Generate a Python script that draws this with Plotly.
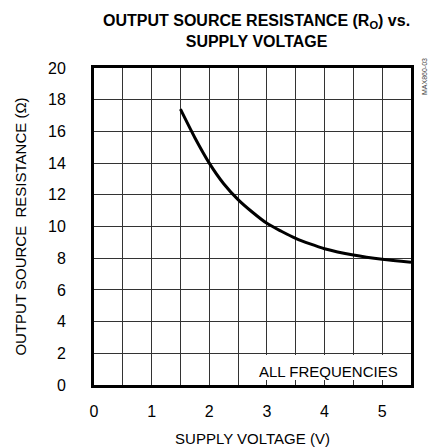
import plotly.graph_objects as go

# Data
voltage = [1.5, 1.75, 2.0, 2.25, 2.5, 2.75, 3.0, 3.25, 3.5, 3.75, 4.0, 4.5, 5.0, 5.5]
resistance = [17.4, 15.6, 14.0, 12.7, 11.7, 10.9, 10.2, 9.7, 9.25, 8.9, 8.6, 8.2, 7.93, 7.75]

x_ticks = [0, 1, 2, 3, 4, 5]
y_ticks = [0, 2, 4, 6, 8, 10, 12, 14, 16, 18, 20]

FONT = "Liberation Sans, Arial, Helvetica, sans-serif"

W, H = 428, 447
L, R, T, B = 94, 17, 68, 62
PW, PH = W - L - R, H - T - B  # 317 x 317


def px_x(page_x):
    return (page_x - L) / PW


def px_y(page_y):
    return (H - B - page_y) / PH


fig = go.Figure()
fig.add_trace(go.Scatter(
    x=voltage, y=resistance, mode="lines",
    line=dict(color="black", width=3, shape="spline", smoothing=0.8),
    showlegend=False, hoverinfo="skip",
))

axis_common = dict(
    showline=True, linecolor="black", linewidth=3, mirror=True,
    showgrid=True, gridcolor="#333333", gridwidth=1,
    zeroline=False, automargin=False,
    tickfont=dict(size=16, color="black", family=FONT),
)

fig.update_xaxes(
    range=[0, 5.5], tickvals=x_ticks, ticktext=[str(v) for v in x_ticks],
    minor=dict(dtick=0.5, tick0=0, showgrid=True, gridcolor="#333333", gridwidth=1),
    ticks="", ticklabelstandoff=10,
    title=dict(text="SUPPLY VOLTAGE (V)", font=dict(size=15, color="black", family=FONT), standoff=22),
    **axis_common,
)
fig.update_yaxes(
    range=[0, 20], tickvals=y_ticks, ticktext=[str(v) for v in y_ticks],
    ticks="outside", ticklen=22, tickcolor="rgba(0,0,0,0)",
    title=dict(text="OUTPUT SOURCE  RESISTANCE (Ω)", font=dict(size=15, color="black", family=FONT), standoff=18),
    **axis_common,
)

# White box behind the label, covering the grid
fig.add_shape(type="rect", xref="x", yref="y", x0=2.55, x1=5.5, y0=0.32, y1=1.9,
              fillcolor="white", line=dict(width=0), layer="between")
fig.add_annotation(x=4.07, y=0.84, xref="x", yref="y", text="ALL FREQUENCIES",
                   showarrow=False, font=dict(size=15, color="black", family=FONT))

fig.add_annotation(x=px_x(424), y=px_y(77), xref="paper", yref="paper", text="MAX860-03",
                   showarrow=False, textangle=-90, xanchor="center", yanchor="middle",
                   font=dict(size=7, color="#444444", family=FONT))

# Chart title
fig.add_annotation(x=px_x(256), y=px_y(31), xref="paper", yref="paper",
                   xanchor="center", yanchor="middle",
                   text="<b>OUTPUT SOURCE RESISTANCE (R<sub>O</sub>) vs.<br>SUPPLY VOLTAGE</b>",
                   showarrow=False, font=dict(size=16, color="black", family=FONT))

fig.update_layout(
    width=W, height=H,
    margin=dict(l=L, r=R, t=T, b=B, autoexpand=False),
    paper_bgcolor="white", plot_bgcolor="white",
    font=dict(family=FONT, color="black"),
)

fig.write_html("out.html", config={"displayModeBar": False, "staticPlot": True},
               post_script="document.body.style.margin='0';")
